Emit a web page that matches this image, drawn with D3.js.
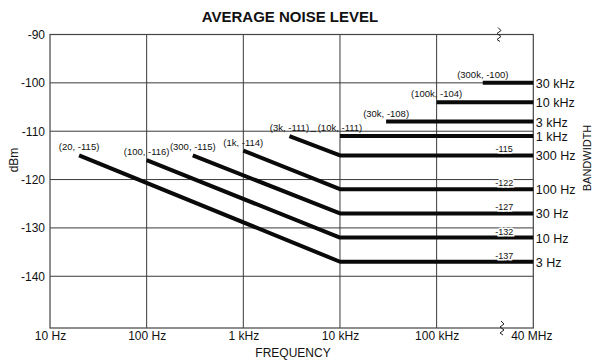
<!DOCTYPE html>
<html>
<head>
<meta charset="utf-8">
<script src="https://cdn.jsdelivr.net/npm/d3@7"></script>
<style>
  html, body { margin: 0; padding: 0; background: #fff; }
  svg { display: block; font-family: "Liberation Sans", Arial, Helvetica, sans-serif; }
</style>
</head>
<body>
<svg id="chart" width="592" height="360"></svg>
<script>
// Resolution bandwidth of each noise curve
const bandwidths = ["3 Hz", "10 Hz", "30 Hz", "100 Hz", "300 Hz", "1 kHz", "3 kHz", "10 kHz", "30 kHz"];
// Frequency (Hz) where each curve begins and its level there (dBm)
const startFreq  = [20, 100, 300, 1000, 3000, 10000, 30000, 100000, 300000];
const startLevel = [-115, -116, -115, -114, -111, -111, -108, -104, -100];
// Flat noise floor reached at 10 kHz and held to the top of the range (dBm)
const floorLevel = [-137, -132, -127, -122, -115, -111, -108, -104, -100];
// Text placed at the start of each curve
const startLabels = ["(20, -115)", "(100, -116)", "(300, -115)", "(1k, -114)", "(3k, -111)", "(10k, -111)", "(30k, -108)", "(100k, -104)", "(300k, -100)"];
// Text placed on the flat part of the sloped curves
const floorLabels = ["-137", "-132", "-127", "-122", "-115"];

const cornerFreq = 10000;
const freqDomain = [10, 1e6];
const xTickValues = [10, 100, 1000, 10000, 100000, 1e6];
const xTickLabels = ["10 Hz", "100 Hz", "1 kHz", "10 kHz", "100 kHz", "40 MHz"];
const yTickValues = [-90, -100, -110, -120, -130, -140];
const yTickLabels = ["-90", "-100", "-110", "-120", "-130", "-140"];
const levelDomain = [-150.7, -90];

const svg = d3.select("#chart");
const plotLeft = 50, plotRight = 533.3, plotTop = 34.5, plotBottom = 328;

const x = d3.scaleLog().domain(freqDomain).range([plotLeft, plotRight]);
const y = d3.scaleLinear().domain(levelDomain).range([plotBottom, plotTop]);

// Title
svg.append("text")
  .attr("x", 290).attr("y", 22)
  .attr("text-anchor", "middle")
  .attr("font-size", 15).attr("font-weight", "bold")
  .attr("fill", "#111")
  .text("AVERAGE NOISE LEVEL");

// Grid
const grid = svg.append("g").attr("stroke", "#3a3a3a").attr("stroke-width", 1);
grid.selectAll("line.h").data(yTickValues.slice(1)).join("line")
  .attr("class", "h")
  .attr("x1", plotLeft).attr("x2", plotRight)
  .attr("y1", d => y(d)).attr("y2", d => y(d));
grid.selectAll("line.v").data(xTickValues.slice(1, -1)).join("line")
  .attr("class", "v")
  .attr("x1", d => x(d)).attr("x2", d => x(d))
  .attr("y1", plotTop).attr("y2", plotBottom);

// Frame
svg.append("rect")
  .attr("x", plotLeft).attr("y", plotTop)
  .attr("width", plotRight - plotLeft).attr("height", plotBottom - plotTop)
  .attr("fill", "none").attr("stroke", "#444").attr("stroke-width", 1.2);

// Axis break marks
const brk = d3.line().curve(d3.curveLinear);
function breakMark(cx, cy) {
  svg.append("path")
    .attr("d", brk([[cx - 1, cy - 7], [cx + 2, cy - 4], [cx - 2, cy - 1], [cx + 2, cy + 2], [cx - 2, cy + 5], [cx + 1, cy + 7]]))
    .attr("fill", "none").attr("stroke", "#222").attr("stroke-width", 1);
}
breakMark(499, plotTop);
breakMark(502, plotBottom);

// Y axis
const yAxis = d3.axisLeft(y).tickValues(yTickValues).tickSize(0).tickPadding(4)
  .tickFormat((d, i) => yTickLabels[i]);
const gy = svg.append("g").attr("transform", `translate(${plotLeft - 1},0)`).call(yAxis);
gy.select(".domain").remove();
gy.selectAll("text").attr("font-size", 12).attr("fill", "#111")
  .attr("font-family", "Liberation Sans, Arial, sans-serif");

// X axis
const xAxis = d3.axisBottom(x).tickValues(xTickValues).tickSize(0).tickPadding(3)
  .tickFormat((d, i) => xTickLabels[i]);
const gx = svg.append("g").attr("transform", `translate(0,${plotBottom})`).call(xAxis);
gx.select(".domain").remove();
gx.selectAll("text").attr("font-size", 12).attr("fill", "#111")
  .attr("font-family", "Liberation Sans, Arial, sans-serif");
gx.selectAll(".tick").filter(d => d === 1e6).select("text").attr("dx", -2);

// Axis titles
svg.append("text")
  .attr("x", 293).attr("y", 357)
  .attr("text-anchor", "middle").attr("font-size", 12).attr("fill", "#111")
  .text("FREQUENCY");
svg.append("text")
  .attr("transform", "translate(18,160) rotate(-90)")
  .attr("text-anchor", "middle").attr("font-size", 12).attr("fill", "#111")
  .text("dBm");
svg.append("text")
  .attr("transform", "translate(591,158) rotate(-90)")
  .attr("text-anchor", "middle").attr("font-size", 11).attr("fill", "#111")
  .text("BANDWIDTH");

// Curves
const curves = bandwidths.map((bw, i) => {
  const pts = [[startFreq[i], startLevel[i]]];
  if (startFreq[i] < cornerFreq) pts.push([cornerFreq, floorLevel[i]]);
  pts.push([freqDomain[1], floorLevel[i]]);
  return { bw, pts, floor: floorLevel[i] };
});
const line = d3.line().x(d => x(d[0])).y(d => y(d[1]));
svg.append("g").selectAll("path").data(curves).join("path")
  .attr("d", d => line(d.pts))
  .attr("fill", "none").attr("stroke", "#0a0a0a")
  .attr("stroke-width", 4).attr("stroke-linejoin", "round");

// Start-point labels
const lbl = svg.append("g").attr("font-size", 9.5).attr("fill", "#111").attr("text-anchor", "middle");
lbl.selectAll("text").data(startLabels).join("text")
  .attr("x", (d, i) => x(startFreq[i]))
  .attr("y", (d, i) => y(startLevel[i]) - 5)
  .text(d => d);
// Connector between the 300 Hz and 1 kHz start labels
lbl.append("line")
  .attr("x1", x(startFreq[4]) + 21).attr("x2", x(startFreq[5]) - 24)
  .attr("y1", y(startLevel[4]) - 4.5).attr("y2", y(startLevel[4]) - 4.5)
  .attr("stroke", "#111").attr("stroke-width", 0.8);

// Floor-level labels on the right
svg.append("g").attr("font-size", 9).attr("fill", "#111").attr("text-anchor", "middle")
  .selectAll("text").data(floorLabels).join("text")
  .attr("x", x(5e5))
  .attr("y", (d, i) => y(floorLevel[i]) - 3)
  .attr("stroke", "#fff").attr("stroke-width", 3).attr("paint-order", "stroke")
  .text(d => d);

// Bandwidth labels beyond the right edge
svg.append("g").attr("font-size", 12.5).attr("fill", "#111")
  .selectAll("text").data(curves).join("text")
  .attr("x", plotRight + 2.5)
  .attr("y", d => y(d.floor) + 1)
  .attr("dominant-baseline", "central")
  .text(d => d.bw);
</script>
</body>
</html>
